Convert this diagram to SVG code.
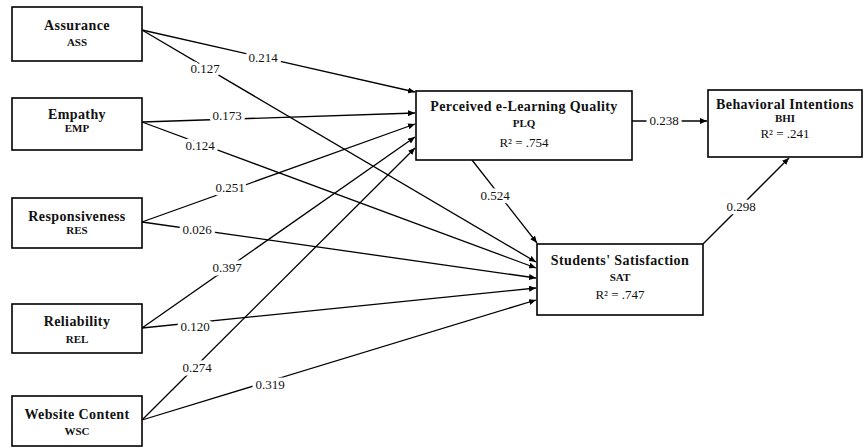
<svg xmlns="http://www.w3.org/2000/svg" width="865" height="448" viewBox="0 0 865 448">
<style>
.box{fill:#fff;stroke:#000;stroke-width:1.6}
.t{font-family:"Liberation Serif",serif;font-weight:bold;font-size:14px;letter-spacing:0.4px;text-anchor:middle;fill:#111}
.c{font-family:"Liberation Serif",serif;font-weight:bold;font-size:11px;text-anchor:middle;fill:#111}
.r{font-family:"Liberation Serif",serif;font-size:13px;text-anchor:middle;fill:#111}
.e{stroke:#000;stroke-width:1.3;fill:none;marker-end:url(#ah)}
.l{font-family:"Liberation Serif",serif;font-size:13px;text-anchor:middle;fill:#111;stroke:#fff;stroke-width:7;paint-order:stroke;stroke-linejoin:round}
</style>
<defs>
<marker id="ah" markerWidth="7" markerHeight="6" refX="7" refY="3" orient="auto" markerUnits="userSpaceOnUse">
<path d="M0,0 L7,3 L0,6 z" fill="#000"/>
</marker>
</defs>
<rect width="865" height="448" fill="#fff"/>
<g id="connectors">
<line class="e" x1="142" y1="30" x2="415" y2="92"/>
<line class="e" x1="142" y1="30" x2="536" y2="262"/>
<line class="e" x1="142" y1="122" x2="415" y2="113"/>
<line class="e" x1="142" y1="122" x2="536" y2="268"/>
<line class="e" x1="142" y1="222" x2="415" y2="124"/>
<line class="e" x1="142" y1="222" x2="536" y2="278"/>
<line class="e" x1="142" y1="328" x2="415" y2="137"/>
<line class="e" x1="142" y1="328" x2="536" y2="288"/>
<line class="e" x1="142" y1="420" x2="415" y2="148"/>
<line class="e" x1="142" y1="420" x2="536" y2="300"/>
<line class="e" x1="472" y1="160" x2="537" y2="243"/>
<line class="e" x1="632" y1="121" x2="707" y2="121"/>
<line class="e" x1="703" y1="244" x2="789" y2="158"/>
<text class="l" x="263" y="62">0.214</text>
<text class="l" x="205" y="73">0.127</text>
<text class="l" x="227" y="120">0.173</text>
<text class="l" x="200" y="150">0.124</text>
<text class="l" x="230" y="192">0.251</text>
<text class="l" x="197" y="234">0.026</text>
<text class="l" x="227" y="272">0.397</text>
<text class="l" x="195" y="331">0.120</text>
<text class="l" x="197" y="372">0.274</text>
<text class="l" x="270" y="389">0.319</text>
<text class="l" x="495" y="200">0.524</text>
<text class="l" x="664" y="125">0.238</text>
<text class="l" x="741" y="211">0.298</text>
</g>
<g id="ass"><rect class="box" x="12" y="7" width="130" height="54"/><text class="t" x="77" y="30">Assurance</text><text class="c" x="77" y="46">ASS</text></g>
<g id="emp"><rect class="box" x="12" y="98" width="130" height="52"/><text class="t" x="77" y="119">Empathy</text><text class="c" x="77" y="132">EMP</text></g>
<g id="res"><rect class="box" x="12" y="198" width="130" height="50"/><text class="t" x="77" y="221">Responsiveness</text><text class="c" x="77" y="234">RES</text></g>
<g id="rel"><rect class="box" x="12" y="304" width="130" height="49"/><text class="t" x="77" y="326">Reliability</text><text class="c" x="77" y="343">REL</text></g>
<g id="wsc"><rect class="box" x="12" y="396" width="130" height="50"/><text class="t" x="77" y="419">Website Content</text><text class="c" x="77" y="435">WSC</text></g>
<g id="plq"><rect class="box" x="416" y="91" width="216" height="69"/><text class="t" x="524" y="111">Perceived e-Learning Quality</text><text class="c" x="524" y="127">PLQ</text><text class="r" x="524" y="147">R² = .754</text></g>
<g id="bhi"><rect class="box" x="708" y="90" width="154" height="67"/><text class="t" x="785" y="109">Behavioral Intentions</text><text class="c" x="785" y="122">BHI</text><text class="r" x="785" y="138">R² = .241</text></g>
<g id="sat"><rect class="box" x="537" y="244" width="166" height="71"/><text class="t" x="620" y="265">Students' Satisfaction</text><text class="c" x="620" y="281">SAT</text><text class="r" x="620" y="299">R² = .747</text></g>
</svg>
